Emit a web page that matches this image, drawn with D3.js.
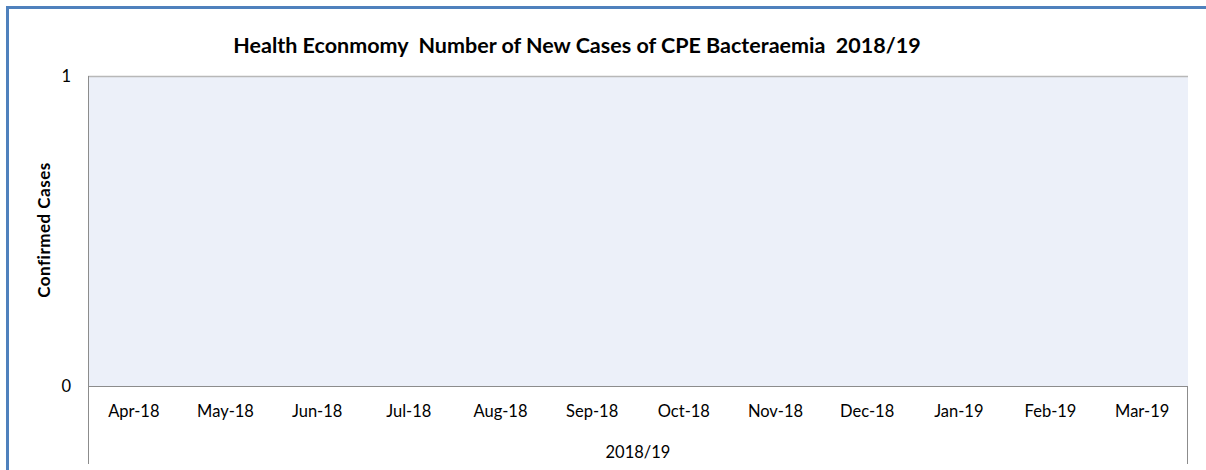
<!DOCTYPE html>
<html><head><meta charset="utf-8">
<script src="https://cdn.jsdelivr.net/npm/d3@7"></script>
<style>body{margin:0;background:#fff;} svg{display:block;} text{white-space:pre;}</style>
</head><body>
<svg id="chart" width="1206" height="470"></svg>
<script>
const categories = ["Apr-18","May-18","Jun-18","Jul-18","Aug-18","Sep-18","Oct-18","Nov-18","Dec-18","Jan-19","Feb-19","Mar-19"];
const values = [0,0,0,0,0,0,0,0,0,0,0,0];
const yTicks = [0,1];
const groupLabel = "2018/19";
const title = "Health Econmomy  Number of New Cases of CPE Bacteraemia  2018/19";
const yLabel = "Confirmed Cases";

const svg = d3.select("#chart");
const font = "Lato, 'Open Sans', sans-serif";
const m = {left:88, right:1188, top:76, bottom:386};

// outer frame
svg.append("path").attr("d","M7.5,470 V7.5 H1206").attr("fill","none").attr("stroke","#4F81BD").attr("stroke-width",3);

const x = d3.scaleBand().domain(categories).range([m.left,m.right]);
const y = d3.scaleLinear().domain([0,1]).range([m.bottom,m.top]);

svg.append("rect").attr("x",m.left).attr("y",m.top).attr("width",m.right-m.left).attr("height",m.bottom-m.top).attr("fill","#ECF0F9");
svg.append("line").attr("x1",m.left).attr("x2",m.right).attr("y1",m.top+0.5).attr("y2",m.top+0.5).attr("stroke","#B8B8B8").attr("stroke-width",1.5);

// bars (all zero)
svg.append("g").selectAll("rect").data(values).join("rect")
  .attr("x",(d,i)=>x(categories[i])+x.bandwidth()*0.2).attr("width",x.bandwidth()*0.6)
  .attr("y",d=>y(d)).attr("height",d=>y(0)-y(d)).attr("fill","#4F81BD");

// y axis
const ya = svg.append("g").attr("transform",`translate(${m.left},0)`).call(d3.axisLeft(y).tickValues(yTicks).tickSize(0).tickPadding(17).tickFormat(d3.format("d")));
ya.select(".domain").remove();
ya.selectAll("text").attr("font-family",font).attr("font-size",16.5).attr("fill","#000");

// axis lines
svg.append("line").attr("x1",m.left+0.5).attr("x2",m.left+0.5).attr("y1",m.top).attr("y2",464).attr("stroke","#8C8C8C");
svg.append("line").attr("x1",m.right-0.5).attr("x2",m.right-0.5).attr("y1",m.bottom).attr("y2",464).attr("stroke","#8C8C8C");
svg.append("line").attr("x1",m.left).attr("x2",m.right).attr("y1",m.bottom+0.5).attr("y2",m.bottom+0.5).attr("stroke","#8C8C8C");

// x axis labels
const xa = svg.append("g").attr("transform",`translate(0,${m.bottom})`).call(d3.axisBottom(x).tickSize(0).tickPadding(19));
xa.select(".domain").remove();
xa.selectAll("text").attr("font-family",font).attr("font-size",16.5).attr("fill","#000");

svg.append("text").attr("x",(m.left+m.right)/2).attr("y",458).attr("text-anchor","middle")
  .attr("font-family",font).attr("font-size",16.5).attr("fill","#000").text(groupLabel);

svg.append("text").attr("x",577).attr("y",53).attr("text-anchor","middle")
  .attr("font-family",font).attr("font-size",21.5).attr("font-weight","bold").attr("fill","#000").text(title);

svg.append("text").attr("transform","translate(50,230) rotate(-90)").attr("text-anchor","middle")
  .attr("font-family",font).attr("font-size",17).attr("letter-spacing",0.5).attr("font-weight","bold").attr("fill","#000").text(yLabel);
</script>
</body></html>
